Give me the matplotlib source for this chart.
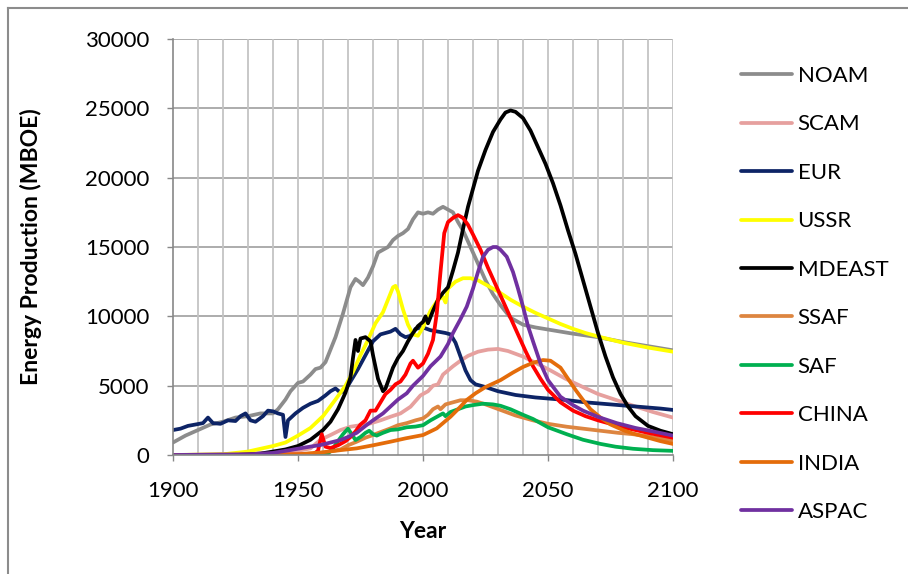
import matplotlib
matplotlib.use("Agg")
import matplotlib.pyplot as plt
from matplotlib.lines import Line2D

# Regional energy production, historical + projected (MBOE per year)
noam_years = [1900, 1905, 1910, 1915, 1920, 1925, 1930, 1935, 1940, 1942, 1945, 1947, 1950,
              1952, 1955, 1957, 1959, 1961, 1963, 1965, 1968, 1971, 1973, 1974.5, 1976,
              1978, 1980, 1982, 1984, 1986, 1988, 1990, 1992, 1994, 1996, 1998, 2000,
              2002, 2004, 2006, 2008, 2010, 2012, 2014, 2016, 2019, 2022, 2025, 2028,
              2031, 2035, 2040, 2045, 2050, 2060, 2070, 2080, 2090, 2100]
noam = [900, 1400, 1800, 2200, 2400, 2700, 2800, 3000, 3000, 3300, 4000, 4600, 5200,
        5300, 5800, 6200, 6300, 6700, 7600, 8500, 10200, 12100, 12700, 12500, 12250,
        12800, 13600, 14600, 14800, 15000, 15500, 15800, 16000, 16300, 17000, 17500, 17400,
        17500, 17400, 17700, 17900, 17700, 17500, 16800, 16200, 15000, 13800, 12600, 11600,
        10800, 9900, 9400, 9200, 9050, 8750, 8500, 8150, 7850, 7550]

scam_years = [1900, 1920, 1940, 1950, 1955, 1959, 1963, 1967, 1971, 1975, 1979, 1983,
              1987, 1991, 1995, 1999, 2002, 2004, 2006, 2008, 2010, 2012, 2015, 2018,
              2022, 2026, 2030, 2034, 2040, 2045, 2051, 2057, 2064, 2070, 2077.5, 2085,
              2092, 2100]
scam = [0, 50, 150, 300, 480, 1100, 1440, 1800, 2040, 2150, 2280, 2500,
        2760, 3000, 3480, 4300, 4600, 5000, 5100, 5800, 6100, 6400, 6800, 7150,
        7450, 7600, 7650, 7500, 7100, 6650, 6100, 5500, 4900, 4400, 3950, 3500,
        3100, 2700]

eur_years = [1900, 1903, 1906, 1909, 1912, 1914, 1916, 1919, 1922, 1925, 1927, 1929,
             1931, 1933, 1936, 1938, 1940, 1942, 1944, 1945, 1946, 1949, 1952, 1955,
             1958, 1961, 1963, 1965, 1967, 1969, 1971, 1974, 1977, 1980, 1983, 1985,
             1987, 1989, 1991, 1993, 1995, 1997, 2000, 2003, 2006, 2009, 2011, 2013,
             2015, 2017, 2019, 2021, 2025, 2030, 2037, 2045, 2057, 2065, 2075, 2085,
             2095, 2100]
eur = [1800, 1900, 2100, 2200, 2300, 2700, 2300, 2250, 2500, 2450, 2800, 3000,
       2500, 2400, 2800, 3200, 3150, 3000, 2900, 1300, 2500, 3000, 3400, 3700,
       3900, 4300, 4600, 4800, 4500, 4700, 5300, 6200, 7200, 8200, 8700, 8800,
       8900, 9100, 8700, 8500, 8600, 9100, 9200, 9000, 8900, 8800, 8700, 8100,
       7100, 6100, 5400, 5100, 4900, 4600, 4330, 4150, 3970, 3800, 3650, 3500,
       3350, 3250]

ussr_years = [1900, 1920, 1930, 1935, 1940, 1945, 1950, 1955, 1960, 1965, 1969, 1972,
              1975, 1978, 1981, 1984, 1986, 1988, 1989, 1990, 1992, 1994, 1996, 1998,
              2000, 2003, 2006, 2008, 2009, 2010, 2013, 2016, 2019, 2022, 2025, 2030,
              2035, 2040, 2045, 2050, 2055, 2060, 2065, 2070, 2080, 2090, 2100]
ussr = [0, 50, 250, 450, 650, 900, 1400, 1950, 2800, 4000, 5000, 6000,
        7200, 8300, 9500, 10300, 11200, 12100, 12200, 11800, 10500, 9400, 8700, 8600,
        9200, 10400, 11200, 11400, 11000, 12000, 12500, 12750, 12750, 12600, 12300, 11800,
        11200, 10700, 10250, 9850, 9450, 9100, 8800, 8550, 8100, 7750, 7450]

mdeast_years = [1900, 1925, 1935, 1940, 1945, 1950, 1955, 1960, 1963, 1966, 1969, 1971,
                1972, 1973, 1974, 1975, 1977, 1979, 1980, 1982, 1984, 1985, 1986, 1988,
                1990, 1992, 1994, 1996, 1998, 2000, 2001, 2002, 2004, 2006, 2008, 2010,
                2012, 2014, 2016, 2018, 2020, 2022, 2025, 2028, 2031, 2033, 2035, 2037,
                2040, 2043, 2046, 2049, 2052, 2055, 2058, 2061, 2064, 2067, 2070, 2073,
                2076, 2079, 2082, 2085, 2090, 2095, 2100]
mdeast = [0, 0, 100, 250, 400, 650, 1100, 1800, 2400, 3300, 4500, 5600,
          7000, 8300, 7500, 8400, 8500, 8200, 7200, 5500, 4600, 4800, 5300, 6300,
          7000, 7500, 8200, 8800, 9300, 9600, 10000, 9500, 10400, 11200, 11700, 12100,
          13300, 14600, 16300, 17900, 19200, 20500, 22000, 23300, 24200, 24700, 24850, 24750,
          24300, 23400, 22200, 21000, 19600, 18000, 16200, 14500, 12600, 10700, 8800, 7100,
          5600, 4400, 3500, 2800, 2100, 1750, 1500]

ssaf_years = [1900, 1950, 1960, 1964, 1967, 1970, 1973.5, 1977, 1980, 1983, 1987, 1990,
              1993.5, 1997, 2000, 2002, 2004, 2006, 2007, 2009, 2012, 2015, 2018, 2021.5,
              2025, 2031, 2037, 2044, 2050, 2057.5, 2064, 2071, 2078, 2084, 2090, 2095, 2100]
ssaf = [0, 50, 150, 300, 400, 700, 960, 1250, 1440, 1650, 1920, 2150,
        2300, 2500, 2640, 2900, 3300, 3500, 3300, 3650, 3800, 3950, 3950, 3850,
        3650, 3250, 2850, 2500, 2250, 2040, 1900, 1750, 1600, 1500, 1350, 1200, 1050]

saf_years = [1900, 1955, 1962, 1964, 1966, 1968, 1970, 1971.5, 1973, 1975, 1977, 1978.5,
             1980, 1981.5, 1984, 1987, 1990, 1993.5, 1997, 2000, 2003, 2005.5, 2007, 2008,
             2009, 2011, 2014, 2017, 2020, 2024, 2028, 2031, 2035, 2040, 2044, 2050,
             2057.5, 2064, 2071, 2077, 2084, 2092, 2100]
saf = [0, 0, 100, 480, 1000, 1500, 1900, 1500, 1080, 1300, 1600, 1750,
       1500, 1400, 1600, 1800, 1850, 2000, 2050, 2150, 2500, 2750, 2900, 3000,
       2800, 3100, 3300, 3500, 3600, 3700, 3650, 3550, 3300, 2900, 2600, 2000,
       1500, 1100, 800, 600, 450, 350, 300]

china_years = [1900, 1950, 1956, 1958, 1959.5, 1961, 1963, 1966, 1969, 1971, 1973, 1975,
               1977, 1979, 1981, 1983, 1985, 1987, 1989, 1991, 1993, 1995, 1996, 1998,
               2000, 2002, 2004, 2005.5, 2007, 2008.5, 2010, 2012, 2014, 2016, 2018, 2020,
               2023, 2026, 2029, 2032, 2035, 2038, 2041, 2044, 2047, 2050, 2055, 2060,
               2065, 2070, 2080, 2090, 2100]
china = [0, 30, 50, 300, 1500, 600, 500, 700, 1000, 1300, 1700, 2200,
         2500, 3200, 3200, 3800, 4400, 4700, 5100, 5300, 5800, 6600, 6800, 6300,
         6600, 7300, 8300, 10200, 13200, 16000, 16800, 17100, 17300, 17100, 16600, 15900,
         14800, 13500, 12300, 11100, 9900, 8700, 7500, 6400, 5500, 4700, 3800, 3200,
         2800, 2500, 2000, 1600, 1250]

india_years = [1900, 1940, 1950, 1960, 1967, 1973.5, 1980, 1987, 1993, 2000, 2003, 2005.5,
               2008, 2011, 2014, 2017.5, 2021, 2025, 2031, 2036, 2040, 2044, 2048, 2051,
               2055, 2058, 2061, 2064, 2067, 2071, 2075, 2080, 2084, 2090, 2095, 2100]
india = [0, 0, 50, 200, 350, 480, 700, 960, 1200, 1440, 1700, 1920,
         2300, 2760, 3300, 3970, 4450, 4900, 5400, 5950, 6350, 6650, 6850, 6800,
         6300, 5500, 4700, 3970, 3300, 2700, 2200, 1800, 1550, 1250, 1000, 800]

aspac_years = [1900, 1930, 1940, 1947, 1953, 1959, 1963, 1967, 1970, 1973.5, 1977, 1980,
               1984, 1987, 1990, 1993.5, 1996, 2000, 2003, 2007, 2010, 2012, 2015, 2017.5,
               2020, 2022, 2024, 2026, 2028, 2029.5, 2031, 2033.5, 2036, 2038, 2040, 2042,
               2044, 2047, 2050, 2055, 2060, 2064, 2070, 2077.5, 2085, 2092, 2100]
aspac = [0, 50, 150, 360, 550, 720, 900, 1080, 1300, 1600, 2100, 2500,
         3000, 3500, 4000, 4450, 5000, 5700, 6400, 7100, 8000, 8800, 9800, 10700,
         12000, 13200, 14300, 14800, 15000, 15000, 14800, 14300, 13200, 12000, 10700, 9300,
         8200, 6600, 5400, 4200, 3600, 3200, 2750, 2300, 1950, 1700, 1400]

series = [
    ("NOAM", noam_years, noam, "#8c8c8c"),
    ("SCAM", scam_years, scam, "#e6a09e"),
    ("EUR", eur_years, eur, "#0d2466"),
    ("USSR", ussr_years, ussr, "#ffff00"),
    ("MDEAST", mdeast_years, mdeast, "#000000"),
    ("SSAF", ssaf_years, ssaf, "#dd8540"),
    ("SAF", saf_years, saf, "#00b050"),
    ("CHINA", china_years, china, "#ff0000"),
    ("INDIA", india_years, india, "#e46c0a"),
    ("ASPAC", aspac_years, aspac, "#7030a0"),
]

plt.rcParams["font.family"] = ["Lato", "DejaVu Sans"]

fig = plt.figure(figsize=(9.08, 5.74), dpi=100)
ax = fig.add_axes([0.1905, 0.2073, 0.5507, 0.7247])

for name, yrs, vals, color in series:
    ax.plot(yrs, vals, color=color, lw=2.7, label=name, solid_capstyle="round",
            solid_joinstyle="round")

ax.set_xlim(1900, 2100)
ax.set_ylim(0, 30000)
ax.set_xticks(range(1900, 2101, 50))
ax.set_yticks(range(0, 30001, 5000))
ax.tick_params(axis="both", which="major", labelsize=16, length=4, width=1,
               color="#888888")
ax.tick_params(axis="y", pad=13)
ax.tick_params(axis="x", pad=15)

for y in range(5000, 30001, 5000):
    ax.axhline(y, color="#a6a6a6", lw=1.3, zorder=0)
for x in range(1910, 2101, 10):
    ax.axvline(x, color="#c4c4c4", lw=1.3, zorder=0)

for side in ("top", "right"):
    ax.spines[side].set_visible(False)
for side in ("left", "bottom"):
    ax.spines[side].set_color("#888888")
    ax.spines[side].set_linewidth(1.2)

ax.set_xlabel("Year", fontsize=16.5, fontweight="bold")
ax.set_ylabel("Energy Production (MBOE)", fontsize=16.5, fontweight="bold")
ax.xaxis.set_label_coords(0.5, -0.158)
ax.yaxis.set_label_coords(-0.262, 0.5)

ax.legend(loc="upper left", bbox_to_anchor=(0.816, 0.885),
          bbox_transform=fig.transFigure, frameon=False, fontsize=16,
          handlelength=2.3, handletextpad=0.25, labelspacing=1.28,
          borderpad=0, borderaxespad=0)

# outer chart frame (left and top edges visible)
fig.add_artist(Line2D([8 / 908, 8 / 908], [0, 1 - 8 / 574], transform=fig.transFigure,
                      color="#8c8c8c", lw=1.5))
fig.add_artist(Line2D([8 / 908, 1], [1 - 8 / 574, 1 - 8 / 574], transform=fig.transFigure,
                      color="#8c8c8c", lw=1.5))

fig.savefig("out.png", dpi=100)
